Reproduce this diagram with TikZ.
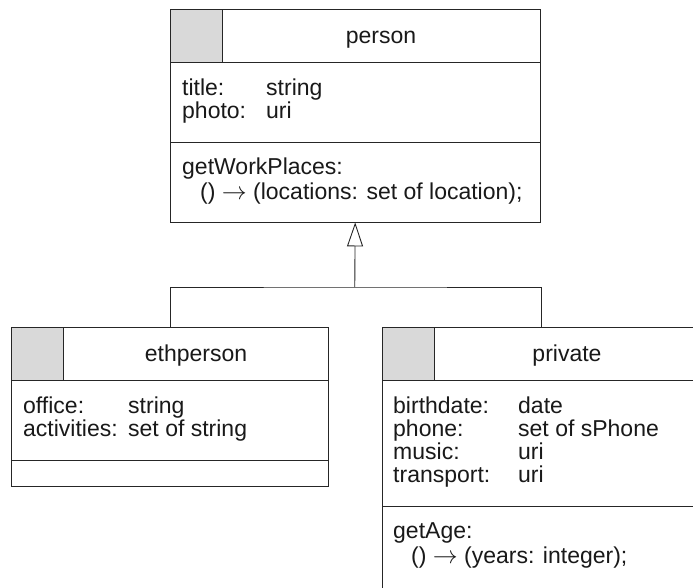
\documentclass[tikz,border=0pt]{standalone}
\usepackage{fontspec}
\setmainfont{Liberation Sans}
\usetikzlibrary{arrows.meta}
\newcommand{\myarrow}{\ensuremath{\rightarrow}}
\begin{document}
\begin{tikzpicture}[x=1pt,y=1pt,
  boxline/.style={draw=black!85, line width=0.9pt},
  classbox/.style={boxline, rectangle, inner sep=0pt, anchor=north west, fill=white},
  graysq/.style={boxline, fill=black!15, rectangle, inner sep=0pt, anchor=north west, minimum width=52pt, minimum height=53pt},
  txt/.style={inner sep=0pt, anchor=base west, font=\fontsize{23}{23}\selectfont, text=black!90},
  headtxt/.style={inner sep=0pt, anchor=base, font=\fontsize{23}{23}\selectfont, text=black!90},
]
\useasboundingbox (0,0) rectangle (693,-587);
\clip (0,0) rectangle (693,-587);

% ---------- person ----------
\node[classbox, minimum width=369.5pt, minimum height=212.5pt] (person) at (170,-9) {};
\node[graysq] (personsq) at (170,-9) {};
\draw[boxline] (personsq.south west) -- (personsq.south west -| person.east);
\coordinate (pdiv) at (170,-142);
\draw[boxline] (pdiv) -- (pdiv -| person.east);
\node[headtxt] (personname) at (381,-43) {person};
\node[txt] (pa1) at (182,-95) {title:};
\node[txt] (pa1t) at (266,-95) {string};
\node[txt] (pa2) at (182,-118) {photo:};
\node[txt] (pa2t) at (266,-118) {uri};
\node[txt] (pm1) at (182,-174.5) {getWorkPlaces:};
\node[txt] (pm2) at (200,-199) {() \myarrow{} (locations: set of location);};

% ---------- ethperson ----------
\node[classbox, minimum width=317pt, minimum height=158.5pt] (eth) at (11,-327) {};
\node[graysq] (ethsq) at (11,-327) {};
\draw[boxline] (ethsq.south west) -- (ethsq.south west -| eth.east);
\coordinate (ediv) at (11,-460);
\draw[boxline] (ediv) -- (ediv -| eth.east);
\node[headtxt] (ethname) at (196,-361) {ethperson};
\node[txt] (ea1) at (23,-413) {office:};
\node[txt] (ea1t) at (128,-413) {string};
\node[txt] (ea2) at (23,-436) {activities:};
\node[txt] (ea2t) at (128,-436) {set of string};

% ---------- private ----------
\node[classbox, minimum width=318pt, minimum height=262pt] (priv) at (382,-327) {};
\node[graysq] (privsq) at (382,-327) {};
\draw[boxline] (privsq.south west) -- (privsq.south west -| priv.east);
\coordinate (vdiv) at (382,-506);
\draw[boxline] (vdiv) -- (vdiv -| priv.east);
\node[headtxt] (privname) at (567,-361) {private};
\node[txt] (va1) at (393,-413) {birthdate:};
\node[txt] (va1t) at (518,-413) {date};
\node[txt] (va2) at (393,-436) {phone:};
\node[txt] (va2t) at (518,-436) {set of sPhone};
\node[txt] (va3) at (393,-459) {music:};
\node[txt] (va3t) at (518,-459) {uri};
\node[txt] (va4) at (393,-482) {transport:};
\node[txt] (va4t) at (518,-482) {uri};
\node[txt] (vm1) at (393,-538.5) {getAge:};
\node[txt] (vm2) at (411,-563) {() \myarrow{} (years: integer);};

% ---------- inheritance ----------
\coordinate (junc) at (354.75,-287);
\draw[boxline] (eth.north) |- (junc) -| (priv.north);
\draw[boxline, -{Triangle[open, length=24pt, width=16pt]}] (junc) -- (person.south);
\end{tikzpicture}
\end{document}
